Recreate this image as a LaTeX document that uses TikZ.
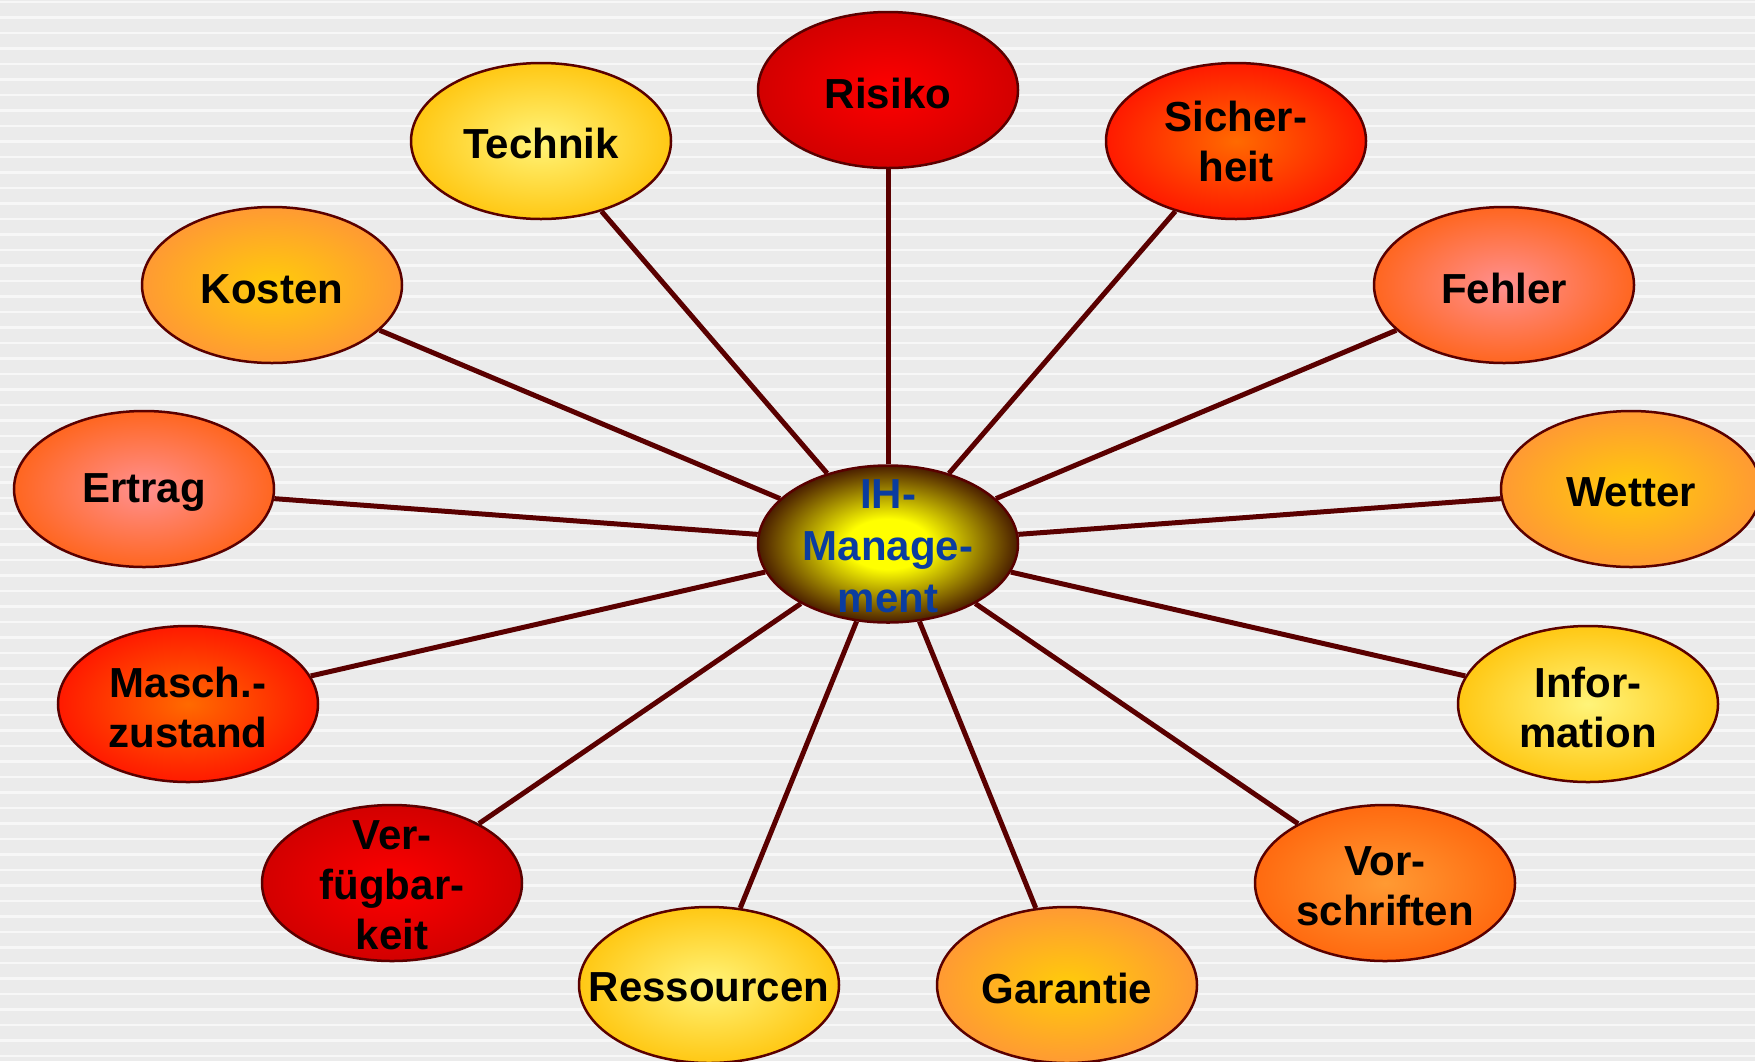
\documentclass[tikz,border=0pt]{standalone}
\usepackage{fontspec}
\setmainfont{Liberation Sans}
\usetikzlibrary{shapes.geometric}
\pgfdeclarelayer{bg}
\pgfdeclarelayer{conn}
\pgfsetlayers{bg,conn,main}
\definecolor{bgfill}{HTML}{EBEBEB}
\definecolor{bgline}{HTML}{F7F7F7}
\definecolor{edge}{HTML}{5A0000}
\definecolor{hubtext}{HTML}{0A3CA0}
\definecolor{hubin}{HTML}{FFFF00}
\definecolor{hubout}{HTML}{4A1E00}
\definecolor{yelIn}{HTML}{FFF47A}
\definecolor{yelOut}{HTML}{FFC814}
\definecolor{redIn}{HTML}{FF0000}
\definecolor{redOut}{HTML}{D20000}
\definecolor{roIn}{HTML}{FF6A00}
\definecolor{roOut}{HTML}{FF1A00}
\definecolor{oyIn}{HTML}{FFCC0A}
\definecolor{oyOut}{HTML}{FF9A33}
\definecolor{pkIn}{HTML}{FF9090}
\definecolor{pkOut}{HTML}{FF6620}
\definecolor{orIn}{HTML}{FF9A33}
\definecolor{orOut}{HTML}{FF6A10}
\pgfdeclareradialshading{hubshade}{\pgfpoint{0bp}{0bp}}{color(0bp)=(hubin); color(8bp)=(hubin); color(25bp)=(hubout); color(50bp)=(hubout)}
\begin{document}
\begin{tikzpicture}[x=1pt,y=-1pt,
  blob/.style={ellipse, draw=edge, line width=2.5pt, minimum width=260pt, minimum height=156pt, inner sep=0pt, shading=radial},
  yel/.style={blob, inner color=yelIn, outer color=yelOut},
  dred/.style={blob, inner color=redIn, outer color=redOut},
  rorg/.style={blob, inner color=roIn, outer color=roOut},
  oyel/.style={blob, inner color=oyIn, outer color=oyOut},
  pink/.style={blob, inner color=pkIn, outer color=pkOut},
  orng/.style={blob, inner color=orIn, outer color=orOut},
  hub/.style={ellipse, draw=edge, line width=2.5pt, minimum width=260pt, minimum height=157pt, inner sep=0pt, shading=hubshade},
  lbl/.style={font=\fontsize{42}{50}\selectfont\bfseries, align=center, inner sep=0pt, text=black},
  hublbl/.style={font=\fontsize{42}{52}\selectfont\bfseries, align=center, inner sep=0pt, text=hubtext},
  spoke/.style={draw=edge, line width=5pt},
  stripe/.style={draw=bgline, line width=2.5pt}]
\useasboundingbox (0,0) rectangle (1755,1061);
\clip (0,0) rectangle (1755,1061);
\begin{pgfonlayer}{bg}
  \fill[bgfill] (0,0) rectangle (1755,1061);
  \foreach \i in {0,...,68} \draw[stripe] (0,{\i*15.5+2}) -- (1755,{\i*15.5+2});
\end{pgfonlayer}

\node[hub] (hub) at (888,544) {};
\node[hublbl] (hub-t) at (888,546) {IH-\\Manage-\\ment};

\node[dred] (risiko) at (888,90) {};
\node[lbl] (risiko-t) at (888,93) {Risiko};
\node[yel] (technik) at (541,141) {};
\node[lbl] (technik-t) at (541,143) {Technik};
\node[rorg] (sicher) at (1236,141) {};
\node[lbl] (sicher-t) at (sicher) {Sicher-\\heit};
\node[oyel] (kosten) at (272,285) {};
\node[lbl] (kosten-t) at (272,289) {Kosten};
\node[pink] (fehler) at (1504,285) {};
\node[lbl] (fehler-t) at (1504,288) {Fehler};
\node[pink] (ertrag) at (144,489) {};
\node[lbl] (ertrag-t) at (144,492) {Ertrag};
\node[oyel] (wetter) at (1631,489) {};
\node[lbl] (wetter-t) at (1631,492) {Wetter};
\node[rorg] (masch) at (188,704) {};
\node[lbl] (masch-t) at (188,707) {Masch.-\\zustand};
\node[yel] (info) at (1588,704) {};
\node[lbl] (info-t) at (1588,707) {Infor-\\mation};
\node[dred] (verf) at (392,883) {};
\node[lbl] (verf-t) at (392,885) {Ver-\\fügbar-\\keit};
\node[orng] (vor) at (1385,883) {};
\node[lbl] (vor-t) at (1385,886) {Vor-\\schriften};
\node[yel] (ress) at (709,985) {};
\node[lbl] (ress-t) at (709,987) {Ressourcen};
\node[oyel] (garantie) at (1067,985) {};
\node[lbl] (garantie-t) at (1067,988) {Garantie};

\begin{pgfonlayer}{conn}
  \foreach \n in {risiko,technik,sicher,kosten,fehler,ertrag,wetter,masch,info,verf,vor,ress,garantie}
    \draw[spoke] (hub) -- (\n);
\end{pgfonlayer}
\end{tikzpicture}
\end{document}
